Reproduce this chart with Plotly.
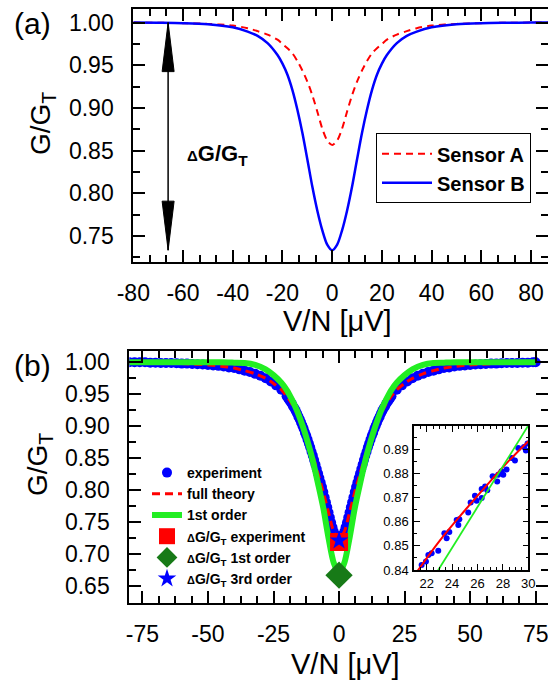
import plotly.graph_objects as go

# ---------------- data: panel (a) ----------------
a_x = [-80, -70, -60, -50, -40, -34, -30, -26, -22, -20, -18, -16, -14, -12, -10, -8, -6, -4, -2, 0,
       2, 4, 6, 8, 10, 12, 14, 16, 18, 20, 22, 26, 30, 34, 40, 50, 60, 70, 80, 88]
sensor_a = [1.0, 0.9998, 0.9994, 0.9985, 0.9965, 0.9935, 0.990, 0.986, 0.980, 0.975, 0.970, 0.964, 0.955, 0.944,
            0.931, 0.915, 0.896, 0.876, 0.862, 0.8566,
            0.862, 0.876, 0.896, 0.915, 0.931, 0.944, 0.955, 0.964, 0.970, 0.975, 0.980, 0.986, 0.990, 0.9935,
            0.9965, 0.9985, 0.9994, 0.9998, 1.0, 1.0]
sensor_b = [1.0, 0.9998, 0.9994, 0.9982, 0.9945, 0.9895, 0.9845, 0.976, 0.962, 0.952, 0.939, 0.921, 0.898, 0.871,
            0.840, 0.808, 0.780, 0.757, 0.740, 0.7335,
            0.740, 0.757, 0.780, 0.808, 0.840, 0.871, 0.898, 0.921, 0.939, 0.952, 0.962, 0.976, 0.9845, 0.9895,
            0.9945, 0.9982, 0.9994, 0.9998, 1.0, 1.0]
a_names = ["Sensor A", "Sensor B"]
a_xticks = [-80, -60, -40, -20, 0, 20, 40, 60, 80]
a_xticktext = ["-80", "-60", "-40", "-20", "0", "20", "40", "60", "80"]
a_yticks = [0.75, 0.80, 0.85, 0.90, 0.95, 1.00]
arrow_x = -66          # position of the ΔG/G_T double arrow (µV)
arrow_top = 1.0
arrow_bottom = 0.7335

# ---------------- data: panel (b) ----------------
exp_x = [-80, -78, -76, -74, -72, -70, -68, -66, -64, -62, -60, -58, -56, -54, -52, -50, -48, -46, -44, -42,
         -40, -38, -36, -34, -32, -30, -28, -26, -24, -22,
         -20, -19.5, -19, -18.5, -18, -17.5, -17, -16.5, -16, -15.5, -15, -14.5, -14, -13.5, -13, -12.5,
         -12, -11.5, -11, -10.5, -10, -9.5, -9, -8.5, -8, -7.5, -7, -6.5, -6, -5.5, -5, -4.5, -4, -3.5,
         -3, -2.5, -2, -1.5, -1, -0.5, 0, 0.5, 1, 1.5, 2, 2.5, 3, 3.5, 4, 4.5, 5, 5.5, 6, 6.5, 7, 7.5,
         8, 8.5, 9, 9.5, 10, 10.5, 11, 11.5, 12, 12.5, 13, 13.5, 14, 14.5, 15, 15.5, 16, 16.5, 17, 17.5,
         18, 18.5, 19, 19.5, 20,
         22, 24, 26, 28, 30, 32, 34, 36, 38, 40, 42, 44, 46, 48, 50, 52, 54, 56, 58, 60, 62, 64, 66, 68,
         70, 72, 74, 75]
exp_y = [1.000, 1.000, 1.000, 1.000, 0.9995, 0.9995, 0.999, 0.999, 0.999, 0.9985, 0.998, 0.998, 0.9975, 0.997,
         0.9965, 0.996, 0.995, 0.9945, 0.9935, 0.992,
         0.991, 0.989, 0.987, 0.985, 0.982, 0.979, 0.975, 0.970, 0.964, 0.957,
         0.947, 0.944, 0.941, 0.938, 0.935, 0.931, 0.928, 0.924, 0.920, 0.915, 0.911, 0.906, 0.901, 0.896,
         0.890, 0.885, 0.879, 0.873, 0.867, 0.860, 0.854, 0.847, 0.840, 0.833, 0.826, 0.819, 0.812, 0.805,
         0.797, 0.789, 0.781, 0.773, 0.765, 0.757, 0.749, 0.742, 0.735, 0.730, 0.726, 0.723, 0.722,
         0.723, 0.726, 0.730, 0.735, 0.742, 0.749, 0.757, 0.765, 0.773, 0.781, 0.789, 0.797, 0.805, 0.812,
         0.819, 0.826, 0.833, 0.840, 0.847, 0.854, 0.860, 0.867, 0.873, 0.879, 0.885, 0.890, 0.896, 0.901,
         0.906, 0.911, 0.915, 0.920, 0.924, 0.928, 0.931, 0.935, 0.938, 0.941, 0.944, 0.947,
         0.957, 0.964, 0.970, 0.975, 0.979, 0.982, 0.985, 0.987, 0.989, 0.991, 0.992, 0.9935, 0.9945, 0.995,
         0.996, 0.9965, 0.997, 0.9975, 0.998, 0.998, 0.9985, 0.999, 0.999, 0.999, 0.9995, 0.9995, 1.000, 1.000]

th_x = [-80, -70, -60, -50, -45, -40, -36, -32, -28, -25, -22, -20, -18, -16, -14, -12, -10, -8, -6, -4, -2, 0,
        2, 4, 6, 8, 10, 12, 14, 16, 18, 20, 22, 25, 28, 32, 36, 40, 45, 50, 60, 70, 75]
full_theory = [1.0, 0.9995, 0.998, 0.996, 0.994, 0.991, 0.987, 0.982, 0.975, 0.967, 0.957, 0.947, 0.935, 0.920,
               0.901, 0.879, 0.854, 0.826, 0.797, 0.765, 0.735, 0.724,
               0.735, 0.765, 0.797, 0.826, 0.854, 0.879, 0.901, 0.920, 0.935, 0.947, 0.957, 0.967, 0.975,
               0.982, 0.987, 0.991, 0.994, 0.996, 0.998, 0.9995, 1.0]
first_order = [1.0, 1.0, 1.0, 1.0, 1.0, 0.9995, 0.999, 0.996, 0.989, 0.980, 0.968, 0.957, 0.942, 0.924,
               0.902, 0.876, 0.846, 0.810, 0.772, 0.725, 0.686, 0.670,
               0.686, 0.725, 0.772, 0.810, 0.846, 0.876, 0.902, 0.924, 0.942, 0.957, 0.968, 0.980, 0.989,
               0.996, 0.999, 0.9995, 1.0, 1.0, 1.0, 1.0, 1.0]

dg_x = [0]
dg_experiment = [0.719]
dg_first = [0.667]
dg_third = [0.721]

b_names = ["experiment", "full theory", "1st order",
           "<span style='font-size:11px'>Δ</span>G/G<sub>T</sub> experiment",
           "<span style='font-size:11px'>Δ</span>G/G<sub>T</sub> 1st order",
           "<span style='font-size:11px'>Δ</span>G/G<sub>T</sub> 3rd order"]
b_xticks = [-75, -50, -25, 0, 25, 50, 75]
b_xticktext = ["-75", "-50", "-25", "0", "25", "50", "75"]
b_yticks = [0.65, 0.70, 0.75, 0.80, 0.85, 0.90, 0.95, 1.00]

# ---------------- data: inset ----------------
ins_exp_x = [21.60, 21.94, 22.13, 22.39, 22.91, 23.39, 23.57, 23.78, 24.36, 24.49, 24.57, 25.27, 25.46, 25.80,
             25.93, 26.33, 26.33, 26.60, 26.77, 27.19, 27.55, 27.63, 27.89, 28.03, 28.29, 28.69, 28.95, 29.21,
             29.66, 29.81, 29.94]
ins_exp_y = [0.8421, 0.8435, 0.8462, 0.8470, 0.8480, 0.8553, 0.8532, 0.8558, 0.8608, 0.8587, 0.8611, 0.8639,
             0.8680, 0.8708, 0.8688, 0.8736, 0.8699, 0.8747, 0.8731, 0.8789, 0.8768, 0.8796, 0.8810, 0.8796,
             0.8817, 0.8865, 0.8855, 0.8907, 0.8911, 0.8896, 0.8925]
ins_th_x = [21.0, 23.0, 25.0, 27.0, 28.5, 30.0]
ins_th_y = [0.8375, 0.8520, 0.8647, 0.8768, 0.8855, 0.8935]
ins_first_x = [22.7, 30.0]
ins_first_y = [0.8382, 0.9000]
ins_xticks = [22, 24, 26, 28, 30]
ins_yticks = [0.84, 0.85, 0.86, 0.87, 0.88, 0.89]

# ---------------- styling ----------------
FONT = "Liberation Sans, Arial, sans-serif"
RED = "#ff0000"
BLUE = "#0000ff"
GREEN = "#22ee22"
DGREEN = "#177a17"
W, H = 548, 682


def px_x(p):
    return p / W


def px_y(p):
    return 1 - p / H


fig = go.Figure()

# panel (a)
fig.add_trace(go.Scatter(x=a_x, y=sensor_a, mode="lines", name="<b>" + a_names[0] + "</b>",
                         line=dict(color=RED, width=2, dash="7px,5px", shape="spline", smoothing=0.8),
                         xaxis="x", yaxis="y", legend="legend"))
fig.add_trace(go.Scatter(x=a_x, y=sensor_b, mode="lines", name="<b>" + a_names[1] + "</b>",
                         line=dict(color=BLUE, width=2.5, shape="spline", smoothing=0.8),
                         xaxis="x", yaxis="y", legend="legend"))

# panel (b)
fig.add_trace(go.Scatter(x=exp_x, y=exp_y, mode="markers", name="<b>" + b_names[0] + "</b>",
                         marker=dict(color=BLUE, size=10, symbol="circle"),
                         xaxis="x2", yaxis="y2", legend="legend2"))
fig.add_trace(go.Scatter(x=th_x, y=full_theory, mode="lines", name="<b>" + b_names[1] + "</b>",
                         line=dict(color=RED, width=3, dash="8px,5px", shape="spline", smoothing=0.8),
                         xaxis="x2", yaxis="y2", legend="legend2"))
fig.add_trace(go.Scatter(x=th_x, y=first_order, mode="lines", name="<b>" + b_names[2] + "</b>",
                         line=dict(color=GREEN, width=6, shape="spline", smoothing=0.8),
                         xaxis="x2", yaxis="y2", legend="legend2"))
fig.add_trace(go.Scatter(x=dg_x, y=dg_experiment, mode="markers", name="<b>" + b_names[3] + "</b>",
                         marker=dict(color=RED, size=18, symbol="square"),
                         xaxis="x2", yaxis="y2", legend="legend2"))
fig.add_trace(go.Scatter(x=dg_x, y=dg_first, mode="markers", name="<b>" + b_names[4] + "</b>",
                         marker=dict(color=DGREEN, size=21, symbol="diamond"),
                         xaxis="x2", yaxis="y2", legend="legend2"))
fig.add_trace(go.Scatter(x=dg_x, y=dg_third, mode="markers", name="<b>" + b_names[5] + "</b>",
                         marker=dict(color=BLUE, size=14, symbol="star"),
                         xaxis="x2", yaxis="y2", legend="legend2"))

# inset
fig.add_trace(go.Scatter(x=ins_exp_x, y=ins_exp_y, mode="markers", showlegend=False,
                         marker=dict(color=BLUE, size=6), xaxis="x3", yaxis="y3"))
fig.add_trace(go.Scatter(x=ins_th_x, y=ins_th_y, mode="lines", showlegend=False,
                         line=dict(color=RED, width=2, shape="spline"), xaxis="x3", yaxis="y3"))
fig.add_trace(go.Scatter(x=ins_first_x, y=ins_first_y, mode="lines", showlegend=False,
                         line=dict(color=GREEN, width=1.8), xaxis="x3", yaxis="y3"))


def axis(**kw):
    d = dict(showline=True, linecolor="black", linewidth=2, mirror="ticks", ticks="inside",
             ticklen=12, tickwidth=2, tickcolor="black", showgrid=False, zeroline=False,
             automargin=False, ticklabeloverflow="allow",
             tickfont=dict(family=FONT, size=23, color="black"))
    d.update(kw)
    return d


def minor(dt, ln=7, w=2):
    return dict(dtick=dt, ticks="inside", ticklen=ln, tickwidth=w, tickcolor="black", showgrid=False)


fig.update_layout(
    width=W, height=H, margin=dict(l=0, r=0, t=0, b=0, autoexpand=False),
    paper_bgcolor="white", plot_bgcolor="white",
    font=dict(family=FONT, color="black"),
    xaxis=axis(domain=[px_x(133.3), 1], range=[-80, 86.8], tickvals=a_xticks, ticktext=a_xticktext,
               minor=minor(20 / 3), anchor="y", ticklabelstandoff=10),
    yaxis=axis(domain=[px_y(261.7), px_y(9.3)], range=[0.72, 1.0156], tickvals=a_yticks,
               tickformat=".2f", minor=minor(0.025), anchor="x", ticklabelstandoff=13),
    xaxis2=axis(domain=[px_x(129.3), 1], range=[-80, 79.7], tickvals=b_xticks, ticktext=b_xticktext,
                minor=minor(6.25), anchor="y2", ticklabelstandoff=10),
    yaxis2=axis(domain=[px_y(602.7), px_y(350.7)], range=[0.6239, 1.0182], tickvals=b_yticks,
                tickformat=".2f", minor=minor(0.025), anchor="x2", ticklabelstandoff=13),
    xaxis3=axis(domain=[px_x(414), px_x(528.3)], range=[21, 30], tickvals=ins_xticks,
                minor=minor(0.5, 3, 1.2), anchor="y3", linewidth=1.5, ticklen=6, tickwidth=1.2,
                tickfont=dict(family=FONT, size=13, color="black"), ticklabelstandoff=1),
    yaxis3=axis(domain=[px_y(570), px_y(426)], range=[0.84, 0.8998], tickvals=ins_yticks,
                tickformat=".2f", minor=minor(0.005, 3, 1.2), anchor="x3", linewidth=1.5, ticklen=6,
                tickwidth=1.2, tickfont=dict(family=FONT, size=13, color="black"), ticklabelstandoff=1),
    legend=dict(x=px_x(376), y=px_y(133.3), xanchor="left", yanchor="top", bordercolor="black",
                borderwidth=1, bgcolor="white", font=dict(family=FONT, size=20, color="black"),
                itemwidth=50, tracegroupgap=0),
    legend2=dict(x=px_x(147), y=px_y(457), xanchor="left", yanchor="top", borderwidth=0,
                 bgcolor="rgba(0,0,0,0)", font=dict(family=FONT, size=14, color="black"),
                 tracegroupgap=0),
)

# double arrow for ΔG/G_T in panel (a)
fig.add_shape(type="line", xref="x", yref="y", x0=arrow_x, x1=arrow_x, y0=arrow_top, y1=arrow_bottom,
              line=dict(color="black", width=1.5))
fig.add_shape(type="path", xref="x", yref="y", xsizemode="pixel", ysizemode="pixel",
              xanchor=arrow_x, yanchor=arrow_top, path="M0,0 L-6,-49 L6,-49 Z",
              fillcolor="black", line=dict(color="black", width=1))
fig.add_shape(type="path", xref="x", yref="y", xsizemode="pixel", ysizemode="pixel",
              xanchor=arrow_x, yanchor=arrow_bottom, path="M0,0 L-6,49 L6,49 Z",
              fillcolor="black", line=dict(color="black", width=1))

ann = [
    dict(text="(a)", x=px_x(32), y=px_y(24), font=dict(size=30)),
    dict(text="(b)", x=px_x(32), y=px_y(365), font=dict(size=30)),
    dict(text="G/G<sub>T</sub>", x=px_x(42), y=px_y(124), textangle=-90, font=dict(size=28)),
    dict(text="G/G<sub>T</sub>", x=px_x(40), y=px_y(465), textangle=-90, font=dict(size=28)),
    dict(text="V/N [μV]", x=px_x(337), y=px_y(321), font=dict(size=29)),
    dict(text="V/N [μV]", x=px_x(345), y=px_y(664), font=dict(size=29)),
    dict(text="<b><span style='font-size:15px'>Δ</span>G/G<sub>T</sub></b>", x=px_x(217), y=px_y(155),
         font=dict(size=22)),
]
for a in ann:
    f = dict(family=FONT, color="black")
    f.update(a.pop("font"))
    fig.add_annotation(xref="paper", yref="paper", showarrow=False, xanchor="center", yanchor="middle",
                       font=f, **a)

fig.write_html("out.html", config={"displayModeBar": False},
               post_script="document.body.style.margin='0';document.body.style.overflow='hidden';")
